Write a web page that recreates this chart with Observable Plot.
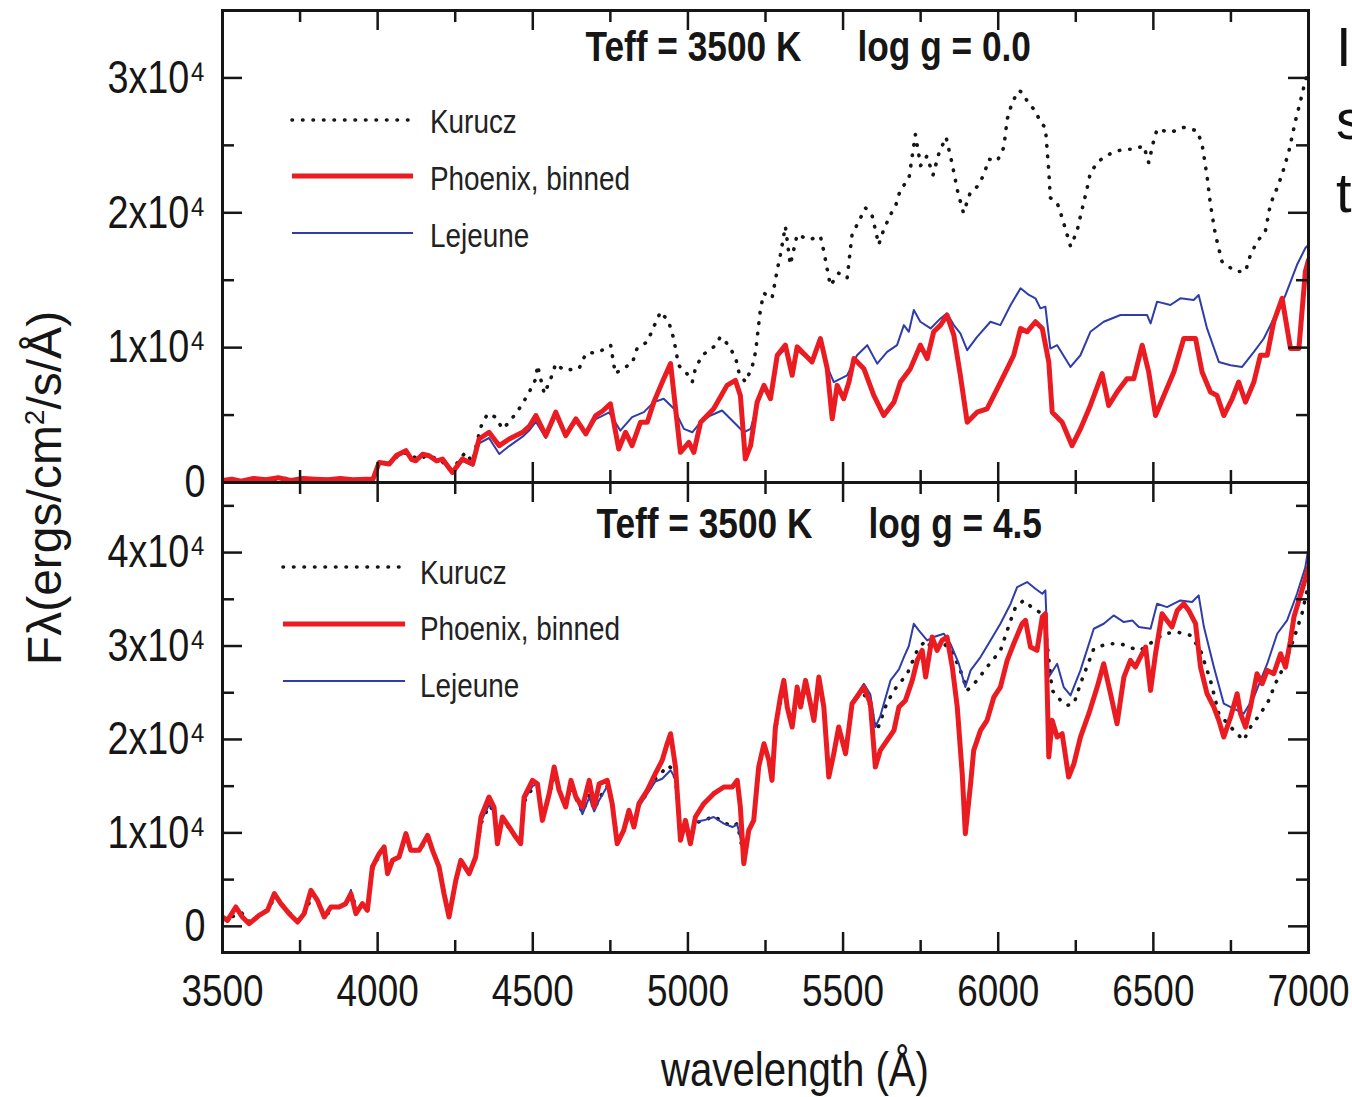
<!DOCTYPE html>
<html><head><meta charset="utf-8">
<script src="https://cdn.jsdelivr.net/npm/d3@7"></script>
<script src="https://cdn.jsdelivr.net/npm/@observablehq/plot@0.6"></script>
<style>
html,body{margin:0;padding:0;background:#fff;overflow:hidden;}
#wrap{position:relative;width:1352px;height:1097px;overflow:hidden;color:#161616;}
#wrap svg{overflow:visible;}
</style></head>
<body><div id="wrap"></div>
<script>
// ---------- data ----------
const xMajor = [3500,4000,4500,5000,5500,6000,6500,7000];
const xMinor = [3750,4250,4750,5250,5750,6250,6750];
const topYMajor = [0,10000,20000,30000];
const topYMinor = [5000,15000,25000];
const botYMajor = [0,10000,20000,30000,40000];
const botYMinor = [5000,15000,25000,35000,45000];
const topTitle = ["Teff = 3500 K", "log g = 0.0"];
const botTitle = ["Teff = 3500 K", "log g = 4.5"];
const seriesNames = ["Kurucz", "Phoenix, binned", "Lejeune"];
const xLabel = "wavelength (Å)";
const sideText = ["I", "s", "t"];

const topPhoenix = [[3500,150],[3530,250],[3560,100],[3600,300],[3640,200],[3680,350],[3720,150],[3760,300],[3800,250],[3840,200],[3880,300],[3920,200],[3960,250],[3985,250],[4005,1490],[4037,1366],[4060,2000],[4091,2359],[4110,1700],[4123,1614],[4145,2100],[4166,1987],[4190,1600],[4209,1738],[4241,745],[4273,1738],[4306,1366],[4327,3228],[4359,3725],[4392,2732],[4424,3228],[4467,3725],[4490,4200],[4510,4967],[4542,3477],[4574,5215],[4606,3477],[4639,4718],[4671,3601],[4703,4967],[4725,5300],[4750,5836],[4777,2483],[4799,3725],[4820,2732],[4847,4470],[4869,4470],[4890,5960],[4922,7699],[4944,8816],[4976,2235],[5003,2980],[5019,2235],[5041,4470],[5083,5464],[5126,7203],[5153,7575],[5169,6457],[5185,1738],[5202,2732],[5223,5960],[5245,7203],[5266,6209],[5288,9437],[5314,10183],[5336,7947],[5352,10058],[5379,9437],[5400,8940],[5427,10679],[5449,8443],[5465,4719],[5481,7203],[5502,6209],[5519,7450],[5535,9190],[5567,8443],[5599,6457],[5631,4967],[5664,5960],[5685,7450],[5717,8443],[5749,10183],[5771,9190],[5792,11175],[5814,11672],[5835,12415],[5857,10927],[5878,7947],[5900,4470],[5932,5215],[5964,5464],[5997,6953],[6029,8443],[6050,9437],[6072,11424],[6093,11175],[6120,11920],[6142,11424],[6163,8940],[6174,5215],[6206,4470],[6238,2731],[6265,3973],[6297,5713],[6335,8071],[6356,5713],[6383,6705],[6415,7699],[6437,7699],[6464,10183],[6485,8195],[6507,4966],[6534,6457],[6566,8195],[6598,10679],[6636,10679],[6657,8195],[6684,6705],[6705,6457],[6727,4966],[6754,6209],[6775,7450],[6797,5960],[6824,7450],[6845,9437],[6867,9437],[6888,11920],[6915,13659],[6942,9933],[6969,9933],[6990,15645],[7000,16500]];

const topLejeune = [[3500,150],[3530,250],[3560,100],[3600,300],[3640,200],[3680,350],[3720,150],[3760,300],[3800,250],[3840,200],[3880,300],[3920,200],[3960,250],[3985,200],[4005,1400],[4037,1300],[4060,1900],[4091,2250],[4110,1650],[4123,1550],[4145,2000],[4166,1900],[4190,1550],[4209,1650],[4241,700],[4273,1600],[4306,1250],[4327,2900],[4359,3300],[4392,2110],[4424,2700],[4467,3400],[4490,3900],[4510,4500],[4542,3300],[4574,4900],[4606,3400],[4639,4500],[4671,3600],[4703,4700],[4746,5200],[4782,3849],[4820,4843],[4858,5215],[4890,5960],[4922,6209],[4955,5464],[4987,3973],[5014,3725],[5041,4470],[5073,4967],[5110,5340],[5148,4470],[5180,3725],[5202,3973],[5223,5700],[5245,7000],[5266,6300],[5288,9300],[5314,9900],[5336,8000],[5352,9800],[5379,9300],[5400,8900],[5427,10500],[5449,8600],[5470,7450],[5513,7947],[5545,9437],[5578,10183],[5610,8816],[5642,9685],[5674,10183],[5696,11672],[5712,11175],[5728,12788],[5749,11920],[5782,11424],[5814,12167],[5835,12540],[5857,11672],[5878,11050],[5900,9810],[5932,10803],[5975,11920],[6007,11672],[6040,13163],[6072,14405],[6099,13908],[6120,13659],[6136,12914],[6152,13038],[6168,9933],[6190,10183],[6233,8568],[6265,9437],[6297,11175],[6340,11920],[6394,12418],[6448,12418],[6480,12418],[6491,11796],[6512,13411],[6555,13163],[6587,13659],[6630,13535],[6646,13908],[6673,11424],[6711,8940],[6749,8692],[6786,8568],[6824,9685],[6856,10679],[6888,12170],[6926,13908],[6963,16143],[6990,17385],[7000,17634]];

const topKurucz = [[3500,150],[3540,200],[3580,120],[3620,250],[3660,200],[3700,300],[3740,150],[3780,250],[3820,200],[3860,250],[3900,150],[3940,200],[3985,250],[4005,1500],[4040,1400],[4070,2100],[4100,2200],[4130,1700],[4160,2000],[4200,1700],[4240,900],[4270,1900],[4284,2235],[4305,1500],[4332,4098],[4354,5091],[4381,4843],[4402,3973],[4424,4470],[4456,5464],[4483,6457],[4510,7699],[4515,8692],[4537,6582],[4558,7699],[4574,8816],[4601,8320],[4649,8443],[4671,9562],[4714,9685],[4751,10183],[4766,8071],[4788,8443],[4820,8816],[4836,9935],[4869,10431],[4890,11548],[4912,12666],[4938,11920],[4954,10679],[4970,8692],[4997,8071],[5014,7450],[5024,8443],[5046,9437],[5083,10058],[5105,10803],[5126,10307],[5153,9314],[5164,8195],[5185,7450],[5207,8567],[5218,9687],[5234,12915],[5245,14033],[5271,13660],[5288,15771],[5298,16888],[5314,19000],[5330,16143],[5352,18379],[5390,18006],[5427,18255],[5438,17137],[5459,14600],[5486,15522],[5513,15150],[5529,18379],[5551,19374],[5572,20367],[5594,19746],[5615,17634],[5631,18752],[5653,19870],[5669,20491],[5685,21733],[5712,22500],[5733,25800],[5750,23500],[5770,24200],[5790,22800],[5810,24500],[5832,25600],[5850,23800],[5870,21500],[5888,20000],[5910,21500],[5935,22000],[5954,22851],[5970,23969],[5997,23845],[6018,24838],[6029,26949],[6045,28190],[6066,29059],[6077,28935],[6099,28066],[6120,27570],[6136,26700],[6152,26328],[6163,23100],[6168,21113],[6190,20740],[6206,19622],[6222,18380],[6233,17511],[6254,18628],[6265,19746],[6287,21857],[6297,22975],[6324,23844],[6367,24465],[6405,24714],[6437,24714],[6469,24962],[6485,23720],[6501,25335],[6512,26204],[6555,25956],[6598,26328],[6641,26080],[6657,25086],[6673,22727],[6684,20616],[6700,18380],[6721,16393],[6764,15648],[6797,15648],[6813,16890],[6835,17883],[6861,18628],[6877,20615],[6899,21857],[6915,22851],[6937,24589],[6958,26825],[6969,27818],[6990,29805],[7000,30500]];

const botPhoenix = [[3500,998],[3516,642],[3543,2069],[3564,998],[3586,285],[3618,1177],[3645,1712],[3667,3496],[3688,2426],[3715,1356],[3742,464],[3763,1356],[3785,3852],[3806,2782],[3828,998],[3849,2069],[3876,2069],[3897,2426],[3914,3496],[3930,1356],[3951,2426],[3967,1712],[3983,6349],[4005,7776],[4021,8489],[4032,5636],[4048,7062],[4069,7419],[4091,9916],[4107,8132],[4134,8132],[4161,9737],[4177,8132],[4198,6349],[4214,3496],[4230,998],[4252,4922],[4268,7062],[4295,5636],[4316,7419],[4333,11699],[4359,13839],[4375,12769],[4386,8845],[4402,11699],[4424,10629],[4445,9559],[4461,8845],[4472,13839],[4499,15622],[4515,15265],[4531,11342],[4553,14195],[4569,17049],[4585,14552],[4606,12769],[4623,15622],[4639,13839],[4660,12769],[4682,15622],[4698,12769],[4714,15265],[4740,15622],[4756,13125],[4772,8845],[4793,10272],[4810,12412],[4826,10629],[4842,13125],[4869,14552],[4895,16335],[4917,17762],[4933,19545],[4944,20615],[4960,17049],[4976,9202],[4992,11342],[5008,8845],[5024,11699],[5051,13125],[5083,14195],[5116,14909],[5143,14909],[5159,15622],[5169,12769],[5180,6706],[5196,10272],[5212,11342],[5228,17049],[5245,19545],[5261,17762],[5271,15622],[5282,21329],[5298,24539],[5309,26322],[5320,23469],[5336,21329],[5352,25609],[5363,23469],[5379,26322],[5395,23826],[5406,22042],[5422,26679],[5438,23469],[5454,15979],[5470,18475],[5486,21329],[5508,18475],[5529,23826],[5567,25609],[5588,23826],[5604,17049],[5620,18832],[5642,19902],[5664,20972],[5680,23469],[5701,24182],[5723,26322],[5739,28462],[5755,29532],[5766,26679],[5787,30959],[5803,29532],[5819,30602],[5835,30959],[5852,27749],[5868,23469],[5884,16335],[5894,9915],[5911,15265],[5921,18832],[5943,20972],[5964,22042],[5986,24539],[6007,25609],[6029,28462],[6050,30245],[6077,32385],[6088,32742],[6104,29889],[6125,29532],[6142,33098],[6152,33455],[6163,18118],[6174,22042],[6190,20259],[6206,20615],[6227,15979],[6244,17405],[6265,20259],[6292,22755],[6319,25609],[6340,28105],[6362,24895],[6383,21685],[6405,26679],[6426,28462],[6442,27749],[6458,28818],[6475,29889],[6491,25252],[6507,29175],[6528,33455],[6544,32742],[6560,32028],[6577,33812],[6598,34525],[6614,33812],[6636,32385],[6652,27749],[6673,24895],[6695,23469],[6711,22042],[6727,20259],[6749,22399],[6770,24895],[6781,22755],[6797,21328],[6813,23469],[6834,27035],[6851,25965],[6867,27392],[6888,27035],[6910,29175],[6926,27749],[6942,30602],[6953,33098],[6969,34882],[6985,36665],[7000,38448]];

const botLejeune = [[3500,998],[3516,700],[3543,2000],[3564,998],[3586,300],[3618,1177],[3645,1712],[3667,3400],[3688,2426],[3715,1356],[3742,500],[3763,1356],[3785,3700],[3806,2782],[3828,998],[3849,2069],[3876,2069],[3897,2426],[3914,3900],[3930,1356],[3951,2426],[3967,1712],[3983,6200],[4005,7600],[4021,8300],[4032,5636],[4048,7062],[4069,7419],[4091,9700],[4107,8132],[4134,8132],[4161,9500],[4177,8132],[4198,6349],[4214,3496],[4230,1100],[4252,4922],[4268,7062],[4295,5636],[4316,7419],[4333,11200],[4359,13000],[4375,12500],[4386,9200],[4402,11699],[4424,10629],[4445,9559],[4461,8845],[4472,13500],[4499,15000],[4515,15265],[4531,11342],[4553,14195],[4569,16500],[4585,14552],[4606,12769],[4623,15000],[4639,13839],[4660,12000],[4682,13800],[4698,12300],[4714,13500],[4740,15000],[4756,13125],[4772,9300],[4793,10272],[4810,12000],[4826,10629],[4842,12800],[4869,14200],[4895,15500],[4917,15800],[4933,16335],[4944,16700],[4960,15800],[4976,9500],[4992,11342],[5008,9300],[5024,11200],[5051,11342],[5083,11699],[5116,11000],[5143,10629],[5159,10900],[5169,9500],[5180,7500],[5196,10272],[5212,11342],[5228,16800],[5245,19545],[5261,17762],[5271,15622],[5282,21000],[5298,24000],[5309,25500],[5320,23469],[5336,21329],[5352,25000],[5363,23469],[5379,25800],[5395,23826],[5406,22042],[5422,26000],[5438,23469],[5454,16500],[5470,18475],[5486,21329],[5508,18800],[5529,24000],[5567,25965],[5588,24800],[5604,21329],[5620,22500],[5653,26322],[5680,27500],[5696,28818],[5712,30000],[5728,32385],[5744,31671],[5771,30602],[5792,30959],[5825,31315],[5846,30245],[5873,28105],[5894,25609],[5911,27392],[5943,28818],[5975,30602],[6007,32385],[6040,34525],[6061,36308],[6093,36844],[6120,36130],[6142,35595],[6152,35952],[6163,26679],[6190,28105],[6211,25609],[6233,24717],[6265,27392],[6308,31850],[6340,32385],[6372,33277],[6405,32563],[6432,32742],[6453,32028],[6491,31850],[6512,34525],[6544,34168],[6587,34882],[6625,34704],[6646,35417],[6663,32028],[6695,27749],[6727,23826],[6759,23290],[6791,22755],[6824,24539],[6867,28105],[6899,31315],[6931,32742],[6963,35595],[6990,38448],[7000,40588]];

const botKurucz = [[3500,998],[3530,1000],[3560,1500],[3590,400],[3620,1200],[3650,1900],[3670,3300],[3700,2000],[3740,600],[3770,1600],[3790,3600],[3810,2500],[3830,1100],[3860,2000],[3900,2500],[3915,3600],[3935,1500],[3967,1800],[3983,6100],[4005,7600],[4021,8200],[4032,5800],[4048,7000],[4069,7400],[4091,9600],[4110,8100],[4134,8100],[4161,9400],[4180,8000],[4198,6300],[4214,3600],[4230,1200],[4252,4900],[4268,6900],[4295,5700],[4316,7400],[4333,11000],[4359,12900],[4375,12400],[4386,9300],[4402,11500],[4424,10500],[4445,9500],[4461,9000],[4472,13300],[4499,14800],[4515,15000],[4531,11500],[4553,14000],[4569,16300],[4585,14400],[4606,12800],[4623,14900],[4639,13700],[4660,12200],[4682,14000],[4698,12500],[4714,13700],[4740,15000],[4756,13200],[4772,9400],[4793,10300],[4810,12000],[4826,10700],[4842,12900],[4869,14300],[4895,15800],[4917,16500],[4933,17200],[4944,17000],[4960,15800],[4976,9600],[4992,11300],[5008,9400],[5024,11100],[5051,11300],[5083,11800],[5116,11100],[5143,10700],[5159,11000],[5169,9400],[5180,7400],[5196,10300],[5212,11300],[5228,16900],[5245,19400],[5261,17700],[5271,15700],[5282,21000],[5298,23900],[5309,25300],[5320,23400],[5336,21300],[5352,24900],[5363,23400],[5379,25600],[5395,23800],[5406,22000],[5422,25900],[5438,23400],[5454,16400],[5470,18400],[5486,21200],[5508,18700],[5529,23600],[5555,25000],[5578,24539],[5610,20972],[5640,23800],[5664,25252],[5707,27035],[5739,29532],[5766,30600],[5792,29532],[5825,30245],[5850,29500],[5878,27392],[5900,25252],[5932,26322],[5964,27749],[6007,29500],[6040,32742],[6056,34168],[6082,34882],[6120,33812],[6147,33455],[6174,25252],[6201,24182],[6222,23647],[6244,23826],[6265,25965],[6308,29710],[6351,30245],[6394,30245],[6437,29710],[6458,29532],[6496,30423],[6534,31315],[6577,31493],[6620,31137],[6652,29532],[6684,26322],[6711,22755],[6749,21328],[6791,19902],[6813,21328],[6845,22755],[6872,24182],[6893,25965],[6920,27749],[6958,31315],[6979,33455],[7000,36665]];

// ---------- style ----------
const FONT = "'Liberation Sans',Arial,Helvetica,sans-serif";
const SQUEEZE = 0.82;   // the reference lettering is horizontally condensed
const INK = "#161616", RED = "#ea1c22", BLUE = "#2f3da8";
const DOTS = "0.5 10";
const W = 1352, ML = 222, MR = 44;

function panel(o) {
  const fw = W - ML - MR;
  const fh = o.height - o.marginTop - o.marginBottom;
  const xy = {x: d => d[0], y: d => d[1]};
  const tick = {stroke: INK, strokeWidth: 2.5};
  const marks = [
    Plot.line(o.kurucz, {...xy, stroke: INK, strokeWidth: 3.6, strokeDasharray: DOTS, strokeLinecap: "round", clip: true}),
    Plot.line(o.lejeune, {...xy, stroke: BLUE, strokeWidth: 2, clip: true}),
    Plot.line(o.phoenix, {...xy, stroke: RED, strokeWidth: 5, strokeLinejoin: "round", clip: true}),
    Plot.ruleX(xMajor, {x: d => d, ...tick, insetBottom: fh - 20}),
    Plot.ruleX(xMajor, {x: d => d, ...tick, insetTop: fh - 20}),
    Plot.ruleX(xMinor, {x: d => d, ...tick, insetBottom: fh - 12}),
    Plot.ruleX(xMinor, {x: d => d, ...tick, insetTop: fh - 12}),
    Plot.ruleY(o.yMajor, {y: d => d, ...tick, insetRight: fw - 20}),
    Plot.ruleY(o.yMajor, {y: d => d, ...tick, insetLeft: fw - 20}),
    Plot.ruleY(o.yMinor, {y: d => d, ...tick, insetRight: fw - 12}),
    Plot.ruleY(o.yMinor, {y: d => d, ...tick, insetLeft: fw - 12}),
    Plot.frame({stroke: INK, strokeWidth: 3}),
    Plot.axisY(o.yMajor, {tickSize: 0, tickPadding: 17, label: null, fontSize: 46,
      tickFormat: d => d === 0 ? "0" : `${d / 1e4}x10⁴`}),
    Plot.text([o.title[0]], {text: d => d, frameAnchor: "top-left", dx: o.titleDx[0], dy: o.titleDy,
      textAnchor: "start", lineAnchor: "middle", fontSize: 43, fontWeight: "bold", fill: INK}),
    Plot.text([o.title[1]], {text: d => d, frameAnchor: "top-left", dx: o.titleDx[1], dy: o.titleDy,
      textAnchor: "start", lineAnchor: "middle", fontSize: 43, fontWeight: "bold", fill: INK})
  ];
  if (o.showX) marks.push(Plot.axisX(xMajor, {tickSize: 0, tickPadding: 22, label: null, fontSize: 45, tickFormat: d => String(d)}));
  const svg = Plot.plot({
    width: W, height: o.height,
    marginLeft: ML, marginRight: MR, marginTop: o.marginTop, marginBottom: o.marginBottom,
    x: {domain: [3500, 7000], axis: o.showX ? undefined : null},
    y: {domain: o.yDomain},
    style: {background: "transparent", fontFamily: FONT, color: INK, overflow: "visible"},
    marks
  });
  svg.style.position = "absolute";
  svg.style.left = "0px";
  svg.style.top = o.top + "px";
  return svg;
}

const wrap = document.getElementById("wrap");

const bottomSvg = panel({kurucz: botKurucz, lejeune: botLejeune, phoenix: botPhoenix,
  yDomain: [-2800, 47500], yMajor: botYMajor, yMinor: botYMinor,
  height: 617, marginTop: 2, marginBottom: 145, top: 480, showX: true,
  title: botTitle, titleDx: [374, 646], titleDy: 42});
const topSvg = panel({kurucz: topKurucz, lejeune: topLejeune, phoenix: topPhoenix,
  yDomain: [0, 35000], yMajor: topYMajor, yMinor: topYMinor,
  height: 500, marginTop: 10, marginBottom: 18, top: 0, showX: false,
  title: topTitle, titleDx: [363, 635], titleDy: 37});
wrap.appendChild(bottomSvg);
wrap.appendChild(topSvg);

// ---------- legends ----------
const leg = d3.create("svg").attr("width", W).attr("height", 1097)
  .style("position", "absolute").style("left", "0px").style("top", "0px").style("overflow", "visible");
const legendStyles = [
  {stroke: INK, width: 3.6, dash: DOTS},
  {stroke: RED, width: 5, dash: null},
  {stroke: BLUE, width: 2, dash: null}
];
function drawLegend(x1, x2, tx, ys, tys) {
  seriesNames.forEach((name, i) => {
    const st = legendStyles[i];
    leg.append("line").attr("x1", x1).attr("x2", x2).attr("y1", ys[i]).attr("y2", ys[i])
      .attr("stroke", st.stroke).attr("stroke-width", st.width)
      .attr("stroke-dasharray", st.dash).attr("stroke-linecap", st.dash ? "round" : "butt");
    leg.append("text").attr("x", tx).attr("y", tys[i]).attr("dominant-baseline", "central")
      .attr("font-family", FONT).attr("font-size", 34).attr("fill", "#222").text(name);
  });
}
drawLegend(292, 413, 430, [120, 176, 233], [121, 178, 235]);
drawLegend(283, 405, 420, [567, 624, 681], [572, 628, 685]);
wrap.appendChild(leg.node());

// condense all chart lettering like the reference
function squeeze(root) {
  root.querySelectorAll("text").forEach(t => {
    const L = t.getComputedTextLength();
    if (L > 0) {
      t.setAttribute("textLength", (L * SQUEEZE).toFixed(1));
      t.setAttribute("lengthAdjust", "spacingAndGlyphs");
    }
  });
}
[topSvg, bottomSvg, leg.node()].forEach(squeeze);

// ---------- free text ----------
const yl = document.createElement("div");
yl.innerHTML = "Fλ(ergs/cm<sup style='font-size:28px;vertical-align:17px;line-height:0'>2</sup>/s/Å)";
Object.assign(yl.style, {position: "absolute", left: "45px", top: "488px", transform: "translate(-50%,-50%) rotate(-90deg)",
  whiteSpace: "nowrap", fontFamily: FONT, fontSize: "48px", lineHeight: "1", color: INK});
wrap.appendChild(yl);

const xl = document.createElement("div");
xl.textContent = xLabel;
Object.assign(xl.style, {position: "absolute", left: "795px", top: "1069px", transform: "translate(-50%,-50%) scaleX(0.82)",
  whiteSpace: "nowrap", fontFamily: FONT, fontSize: "49px", lineHeight: "1", color: INK});
wrap.appendChild(xl);

const side = document.createElement("div");
side.innerHTML = sideText.join("<br>");
Object.assign(side.style, {position: "absolute", left: "1336px", top: "10px", fontFamily: FONT, fontSize: "56px",
  lineHeight: "73px", color: "#111", whiteSpace: "nowrap"});
wrap.appendChild(side);
</script>
</body></html>
